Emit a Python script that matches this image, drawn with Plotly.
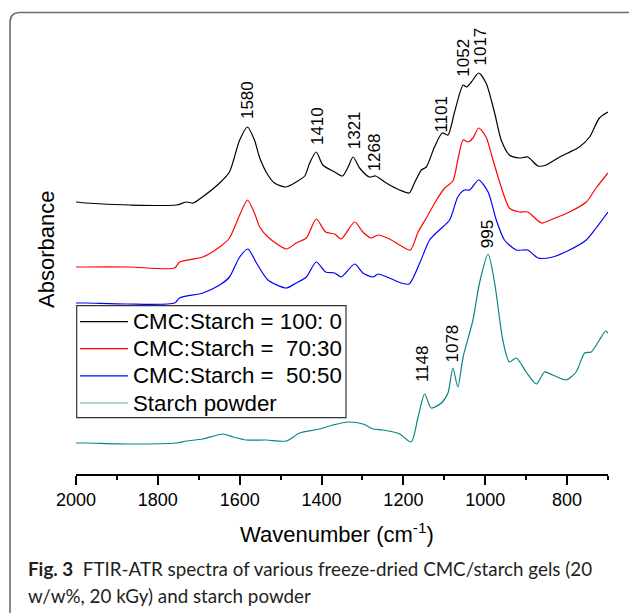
import plotly.graph_objects as go

# ---------------- data ----------------
wn_cmc100 = [2000, 1975, 1869, 1755, 1730, 1714, 1698, 1649, 1625, 1600, 1581, 1564, 1551, 1531, 1515,
             1488, 1462, 1441, 1429, 1413, 1397, 1368, 1349, 1335, 1323, 1307, 1283, 1268, 1242, 1209,
             1186, 1173, 1156, 1144, 1124, 1105, 1091, 1075, 1054, 1046, 1034, 1016, 998, 977, 961,
             941, 916, 896, 871, 851, 818, 798, 770, 745, 721, 700]
abs_cmc100 = [2.72, 2.71, 2.69, 2.69, 2.72, 2.71, 2.75, 2.91, 3.02, 3.34, 3.47, 3.34, 3.16, 2.99, 2.91,
              2.87, 2.92, 2.98, 3.11, 3.22, 3.09, 3.02, 2.98, 3.07, 3.17, 3.06, 2.97, 2.98, 2.91, 2.84,
              2.81, 2.91, 3.04, 3.07, 3.27, 3.41, 3.39, 3.62, 3.89, 3.87, 3.92, 4.01, 3.91, 3.61, 3.34,
              3.19, 3.16, 3.17, 3.08, 3.09, 3.17, 3.21, 3.27, 3.37, 3.56, 3.62]

wn_cmc70 = [2000, 1975, 1869, 1759, 1747, 1690, 1649, 1625, 1600, 1581, 1564, 1551, 1531, 1486, 1462,
            1437, 1413, 1390, 1368, 1352, 1319, 1299, 1279, 1262, 1234, 1205, 1183, 1164, 1144, 1119,
            1099, 1079, 1067, 1054, 1042, 1030, 1016, 998, 981, 961, 941, 916, 896, 863, 835, 794,
            753, 729, 700]
abs_cmc70 = [2.07, 2.07, 2.07, 2.06, 2.12, 2.17, 2.27, 2.36, 2.59, 2.74, 2.61, 2.47, 2.37, 2.25, 2.31,
             2.36, 2.55, 2.42, 2.40, 2.35, 2.52, 2.42, 2.36, 2.39, 2.35, 2.28, 2.24, 2.42, 2.56, 2.74,
             2.86, 2.93, 3.14, 3.34, 3.32, 3.36, 3.46, 3.37, 3.14, 2.87, 2.66, 2.62, 2.62, 2.51, 2.55, 2.62,
             2.72, 2.86, 3.01]

wn_cmc50 = [2000, 1975, 1877, 1759, 1747, 1690, 1649, 1625, 1600, 1580, 1559, 1531, 1486, 1462, 1437,
            1413, 1390, 1368, 1352, 1319, 1299, 1274, 1262, 1234, 1205, 1186, 1160, 1136, 1112, 1087,
            1067, 1051, 1038, 1016, 993, 973, 953, 924, 896, 871, 835, 794, 753, 729, 700]
abs_cmc50 = [1.71, 1.71, 1.70, 1.71, 1.76, 1.81, 1.89, 1.97, 2.17, 2.25, 2.11, 1.94, 1.86, 1.91, 1.97,
             2.12, 2.02, 2.01, 1.97, 2.10, 2.01, 1.97, 2.00, 1.96, 1.91, 1.90, 2.11, 2.34, 2.44, 2.54,
             2.77, 2.84, 2.84, 2.94, 2.82, 2.54, 2.34, 2.24, 2.24, 2.16, 2.17, 2.24, 2.34, 2.46, 2.62]

wn_starch = [2000, 1975, 1869, 1755, 1730, 1690, 1641, 1616, 1584, 1535, 1486, 1454, 1405, 1372, 1335,
             1299, 1274, 1250, 1209, 1181, 1164, 1148, 1132, 1107, 1091, 1079, 1067, 1054, 1030, 1014,
             993, 977, 957, 941, 924, 900, 875, 855, 835, 802, 778, 757, 741, 721, 706, 700]
abs_starch = [0.31, 0.31, 0.30, 0.31, 0.33, 0.35, 0.40, 0.37, 0.34, 0.34, 0.33, 0.41, 0.45, 0.49, 0.52,
              0.50, 0.45, 0.44, 0.40, 0.32, 0.57, 0.80, 0.66, 0.71, 0.81, 1.06, 0.87, 1.17, 1.54, 1.91,
              2.20, 1.91, 1.34, 1.12, 1.16, 1.02, 0.90, 1.02, 0.99, 0.94, 1.02, 1.21, 1.22, 1.34, 1.43, 1.41]

series_names = ["CMC:Starch = 100: 0", "CMC:Starch =\u00a0\u00a070:30", "CMC:Starch =\u00a0\u00a050:50", "Starch powder"]
series_colors = ["#000000", "#ff0000", "#0000ff", "#0a8585"]

peak_labels = ["1580", "1410", "1321", "1268", "1101", "1052", "1017", "995", "1078", "1148"]
# label anchor positions (wavenumber, absorbance at label base)
peak_label_x = [1582, 1411, 1320, 1271, 1108, 1055, 1014, 995, 1080, 1153]
peak_label_y = [3.54, 3.28, 3.24, 3.02, 3.40, 3.96, 4.07, 2.25, 1.11, 0.91]

x_ticks = [2000, 1800, 1600, 1400, 1200, 1000, 800]

# ---------------- layout geometry ----------------
W, H = 629, 613
L, R, T, B = 76, 21, 14, 139
PW, PH = W - L - R, H - T - B


def px(x):
    return (x - L) / PW


def py(y):
    return (H - B - y) / PH


fig = go.Figure()
all_x = [wn_cmc100, wn_cmc70, wn_cmc50, wn_starch]
all_y = [abs_cmc100, abs_cmc70, abs_cmc50, abs_starch]
for xs, ys, nm, col in zip(all_x, all_y, series_names, series_colors):
    fig.add_trace(go.Scatter(x=xs, y=ys, mode="lines", name=nm,
                             line=dict(color=col, width=1.2, shape="spline", smoothing=0.7),
                             showlegend=False))

ann = []
for t, xv, yv in zip(peak_labels, peak_label_x, peak_label_y):
    ann.append(dict(x=xv, y=yv, xref="x", yref="y", text=t, textangle=-90, showarrow=False,
                    xanchor="center", yanchor="bottom", borderpad=0,
                    font=dict(family="Liberation Sans, Arial", size=17, color="black")))

# axis titles
ann.append(dict(x=px(47), y=py(250), xref="paper", yref="paper", text="Absorbance", textangle=-90,
                showarrow=False, xanchor="center", yanchor="middle",
                font=dict(family="Liberation Sans, Arial", size=22, color="black")))
ann.append(dict(x=px(337), y=py(533), xref="paper", yref="paper", text="Wavenumber (cm<sup>-1</sup>)",
                showarrow=False, xanchor="center", yanchor="middle",
                font=dict(family="Liberation Sans, Arial", size=22, color="black")))

# manual legend
shapes = []
shapes.append(dict(type="rect", xref="paper", yref="paper", x0=px(76.7), x1=px(346), y0=py(417.7), y1=py(305.7),
                   line=dict(color="#333333", width=1.2), fillcolor="white", layer="above"))
row_y = [321.7, 348.6, 375.8, 403.0]
legend_colors = ["#000000", "#ff0000", "#0000ff", "#5aaaaa"]
for ry, nm, col in zip(row_y, series_names, legend_colors):
    shapes.append(dict(type="line", xref="paper", yref="paper", x0=px(80), x1=px(128), y0=py(ry), y1=py(ry),
                       line=dict(color=col, width=1.2), layer="above"))
    ann.append(dict(x=px(131), y=py(ry), xref="paper", yref="paper", text=nm, showarrow=False,
                    xanchor="left", yanchor="middle",
                    font=dict(family="Liberation Sans, Arial", size=22.3, color="black")))

# frame with rounded corners
fx0, fx1, fy0 = px(10), px(638), py(12.5)
rx, ry_ = 10 / PW, 10 / PH
fb = py(640)
path = (f"M {fx0} {fb} L {fx0} {fy0 - ry_} Q {fx0} {fy0} {fx0 + rx} {fy0} "
        f"L {fx1 - rx} {fy0} Q {fx1} {fy0} {fx1} {fy0 - ry_} L {fx1} {fb}")
shapes.append(dict(type="path", xref="paper", yref="paper", path=path,
                   line=dict(color="#6e6e6e", width=1.6)))

# caption
cap_font = dict(family="Lato, Open Sans", size=18.8, color="#231f20")
ann.append(dict(x=px(26), y=py(568), xref="paper", yref="paper",
                text="<b>Fig. 3</b>\u00a0\u00a0FTIR-ATR spectra of various freeze-dried CMC/starch gels (20",
                showarrow=False, xanchor="left", yanchor="middle", font=cap_font))
ann.append(dict(x=px(26), y=py(595), xref="paper", yref="paper",
                text="w/w%, 20 kGy) and starch powder",
                showarrow=False, xanchor="left", yanchor="middle", font=cap_font))

fig.update_layout(
    width=W, height=H,
    margin=dict(l=L, r=R, t=T, b=B, pad=0),
    paper_bgcolor="white", plot_bgcolor="white",
    showlegend=False,
    annotations=ann, shapes=shapes,
    xaxis=dict(range=[2000, 700], tickvals=x_ticks, ticktext=[str(v) for v in x_ticks],
               ticks="outside", ticklen=9, tickwidth=1.5, tickcolor="black",
               showline=True, linecolor="black", linewidth=1.5, showgrid=False, zeroline=False,
               tickfont=dict(family="Liberation Sans, Arial", size=18, color="black"),
               minor=dict(dtick=100, tick0=0, ticks="outside", ticklen=4, tickwidth=1.5, tickcolor="black",
                          showgrid=False)),
    yaxis=dict(range=[0, 4.6], visible=False),
)

fig.write_html("out.html")
